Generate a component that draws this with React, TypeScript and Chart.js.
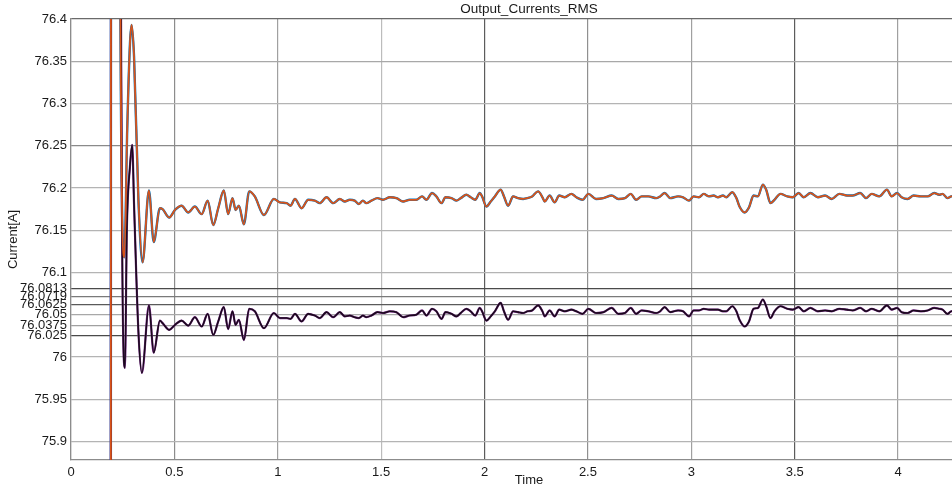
import React, { useEffect, useRef } from 'react';
import { Chart, registerables } from 'chart.js';

Chart.register(...registerables);

// ---- data ----
const startupTimeTop = [0, 0.192, 0.194, 0.236, 0.239, 0.258, 0.272, 0.285, 0.293, 0.305, 0.326, 0.346, 0.377, 0.4];
const startupCurrentTop = [75.0, 75.0, 77.5, 77.5, 76.4, 76.118, 76.27, 76.37, 76.393, 76.355, 76.186, 76.112, 76.197, 76.136];

const startupTimeBottom = [0, 0.192, 0.194, 0.238, 0.242, 0.261, 0.27, 0.285, 0.296, 0.305, 0.326, 0.343, 0.377, 0.4];
const startupCurrentBottom = [75.0, 75.0, 77.5, 77.5, 76.4, 75.987, 76.15, 76.225, 76.251, 76.18, 76.03, 75.981, 76.061, 76.005];

const steadyTime = [
  0.43, 0.443, 0.475, 0.503, 0.535, 0.567, 0.599, 0.632, 0.661, 0.688, 0.712, 0.739, 0.76, 0.781, 0.796, 0.812,
  0.836, 0.862, 0.889, 0.933, 0.981, 1.01, 1.043, 1.062, 1.083, 1.115, 1.147, 1.179, 1.203, 1.236, 1.268, 1.3,
  1.324, 1.348, 1.372, 1.392, 1.412, 1.428, 1.453, 1.482, 1.509, 1.542, 1.574, 1.606, 1.638, 1.67, 1.698, 1.719,
  1.746, 1.767, 1.792, 1.811, 1.84, 1.864, 1.885, 1.912, 1.933, 1.955, 1.977, 1.988, 2.009, 2.03, 2.05, 2.078,
  2.094, 2.114, 2.138, 2.162, 2.187, 2.208, 2.23, 2.259, 2.28, 2.291, 2.315, 2.339, 2.361, 2.388, 2.42, 2.444,
  2.474, 2.502, 2.539, 2.575, 2.615, 2.647, 2.679, 2.707, 2.733, 2.76, 2.792, 2.83, 2.849, 2.871, 2.898, 2.936,
  2.96, 2.989, 3.011, 3.037, 3.06, 3.086, 3.108, 3.129, 3.153, 3.169, 3.198, 3.218, 3.233, 3.258, 3.279, 3.301,
  3.322, 3.346, 3.362, 3.383, 3.402, 3.431, 3.464, 3.491, 3.519, 3.544, 3.576, 3.612, 3.647, 3.679, 3.716, 3.753,
  3.78, 3.817, 3.845, 3.872, 3.909, 3.946, 3.969, 3.995, 4.017, 4.046, 4.075, 4.11, 4.143, 4.175, 4.199, 4.215,
  4.239, 4.257, 4.34, 4.43,
];

const steadyCurrentTop = [
  76.176, 76.175, 76.165, 76.174, 76.179, 76.171, 76.178, 76.169, 76.185, 76.156, 76.176, 76.197, 76.169, 76.188, 76.174, 76.179,
  76.157, 76.196, 76.19, 76.168, 76.187, 76.183, 76.182, 76.179, 76.187, 76.176, 76.186, 76.185, 76.182, 76.189, 76.182, 76.187,
  76.184, 76.186, 76.185, 76.181, 76.185, 76.182, 76.185, 76.188, 76.186, 76.189, 76.188, 76.184, 76.186, 76.186, 76.19, 76.186,
  76.194, 76.19, 76.182, 76.189, 76.188, 76.185, 76.188, 76.192, 76.189, 76.186, 76.194, 76.19, 76.178, 76.184, 76.19, 76.198,
  76.19, 76.179, 76.19, 76.188, 76.187, 76.188, 76.19, 76.196, 76.189, 76.184, 76.191, 76.183, 76.191, 76.189, 76.193, 76.189,
  76.186, 76.193, 76.187, 76.188, 76.191, 76.187, 76.188, 76.193, 76.186, 76.19, 76.19, 76.188, 76.19, 76.194, 76.188, 76.19,
  76.189, 76.185, 76.19, 76.189, 76.193, 76.19, 76.191, 76.189, 76.191, 76.189, 76.195, 76.188, 76.178, 76.171, 76.177, 76.191,
  76.19, 76.204, 76.198, 76.182, 76.186, 76.193, 76.19, 76.189, 76.194, 76.189, 76.194, 76.189, 76.191, 76.187, 76.193, 76.191,
  76.191, 76.194, 76.188, 76.193, 76.19, 76.198, 76.19, 76.194, 76.189, 76.187, 76.191, 76.19, 76.19, 76.194, 76.192, 76.193,
  76.188, 76.19, 76.191, 76.19,
];

const steadyCurrentBottom = [
  76.043, 76.04, 76.032, 76.038, 76.043, 76.037, 76.047, 76.036, 76.051, 76.026, 76.042, 76.059, 76.033, 76.054, 76.038, 76.044,
  76.02, 76.057, 76.054, 76.034, 76.052, 76.046, 76.046, 76.045, 76.051, 76.042, 76.051, 76.049, 76.046, 76.053, 76.047, 76.053,
  76.048, 76.049, 76.047, 76.046, 76.049, 76.047, 76.049, 76.053, 76.052, 76.054, 76.053, 76.047, 76.049, 76.05, 76.055, 76.049,
  76.057, 76.054, 76.045, 76.053, 76.051, 76.048, 76.052, 76.057, 76.054, 76.049, 76.058, 76.054, 76.043, 76.048, 76.054, 76.064,
  76.054, 76.044, 76.054, 76.053, 76.052, 76.054, 76.055, 76.061, 76.054, 76.048, 76.055, 76.048, 76.056, 76.054, 76.056, 76.054,
  76.051, 76.057, 76.052, 76.053, 76.058, 76.051, 76.052, 76.058, 76.051, 76.055, 76.054, 76.052, 76.054, 76.059, 76.053, 76.055,
  76.054, 76.048, 76.055, 76.055, 76.057, 76.056, 76.056, 76.056, 76.054, 76.054, 76.06, 76.054, 76.044, 76.036, 76.042, 76.057,
  76.058, 76.068, 76.06, 76.046, 76.054, 76.06, 76.057, 76.056, 76.059, 76.054, 76.058, 76.054, 76.055, 76.054, 76.057, 76.056,
  76.055, 76.058, 76.054, 76.057, 76.054, 76.061, 76.056, 76.058, 76.053, 76.052, 76.055, 76.054, 76.055, 76.058, 76.057, 76.056,
  76.051, 76.054, 76.055, 76.054,
];

const yTickValues = [75.9, 75.95, 76, 76.025, 76.0375, 76.05, 76.0625, 76.0719, 76.0813, 76.1, 76.15, 76.2, 76.25, 76.3, 76.35, 76.4];
const yTickLabels = ['75.9', '75.95', '76', '76.025', '76.0375', '76.05', '76.0625', '76.0719', '76.0813', '76.1', '76.15', '76.2', '76.25', '76.3', '76.35', '76.4'];
const xTickValues = [0, 0.5, 1, 1.5, 2, 2.5, 3, 3.5, 4];
const xTickLabels = ['0', '0.5', '1', '1.5', '2', '2.5', '3', '3.5', '4'];

const yGridColors = ['#b4b4b4', '#b4b4b4', '#b4b4b4', '#4a4a4a', '#a0a0a0', '#a8a8a8', '#5a5a5a', '#7a7a7a', '#4a4a4a', '#b4b4b4', '#b4b4b4', '#b4b4b4', '#8a8a8a', '#b4b4b4', '#a8a8a8', '#6a6a6a'];
const xGridColors = ['#909090', '#8c8c8c', '#a0a0a0', '#bcbcbc', '#5c5c5c', '#909090', '#a0a0a0', '#5c5c5c', '#a0a0a0'];

const FONT = "'Liberation Sans', Arial, sans-serif";

function toPoints(t: number[], v: number[]) {
  return t.map((x, i) => ({ x, y: v[i] }));
}

export default function App() {
  const ref = useRef<HTMLCanvasElement | null>(null);

  useEffect(() => {
    if (!ref.current) return;
    const topPts = toPoints(startupTimeTop.concat(steadyTime), startupCurrentTop.concat(steadyCurrentTop));
    const bottomPts = toPoints(startupTimeBottom.concat(steadyTime), startupCurrentBottom.concat(steadyCurrentBottom));

    const common = {
      pointRadius: 0,
      cubicInterpolationMode: 'monotone' as const,
      fill: false,
    };

    const chart = new Chart(ref.current, {
      type: 'line',
      data: {
        datasets: [
          { ...common, label: 'Ia', data: topPts, borderColor: '#D95319', borderWidth: 1.8, order: 0 },
          { ...common, label: 'Ic', data: bottomPts, borderColor: '#1a0a1c', borderWidth: 1.6, order: 1 },
          { ...common, label: 'Id', data: bottomPts, borderColor: '#7E2F8E', borderWidth: 2.2, order: 2 },
          { ...common, label: 'Ib', data: topPts, borderColor: '#0072BD', borderWidth: 2.4, order: 3 },
        ],
      },
      options: {
        animation: false,
        responsive: false,
        maintainAspectRatio: false,
        layout: { padding: 0 },
        plugins: {
          legend: { display: false },
          tooltip: { enabled: false },
          title: {
            display: true,
            text: 'Output_Currents_RMS',
            fullSize: false,
            color: '#1a1a1a',
            font: { family: FONT, size: 13.5, weight: 'normal' },
            padding: { top: 1, bottom: 1.8 },
          },
        },
        scales: {
          x: {
            type: 'linear',
            min: 0,
            max: 4.43,
            afterBuildTicks: (scale: any) => {
              scale.ticks = xTickValues.map((value) => ({ value }));
            },
            afterFit: (scale: any) => {
              scale.height = 31;
            },
            ticks: {
              autoSkip: false,
              maxRotation: 0,
              padding: 5,
              color: '#1a1a1a',
              font: { family: FONT, size: 13 },
              callback: (_v: any, i: number) => xTickLabels[i],
            },
            grid: {
              drawTicks: false,
              color: (ctx: any) => xGridColors[ctx.index] || '#a0a0a0',
              lineWidth: 1.2,
            },
            border: { color: '#8c8c8c', width: 1.2 },
            title: {
              display: true,
              text: 'Time',
              color: '#1a1a1a',
              font: { family: FONT, size: 13 },
              padding: { top: 0, bottom: 3 },
            },
          },
          y: {
            type: 'linear',
            min: 75.878,
            max: 76.4,
            afterBuildTicks: (scale: any) => {
              scale.ticks = yTickValues.map((value) => ({ value }));
            },
            afterFit: (scale: any) => {
              scale.width = 71;
            },
            ticks: {
              autoSkip: false,
              padding: 4,
              color: '#1a1a1a',
              font: { family: FONT, size: 13 },
              callback: (_v: any, i: number) => yTickLabels[i],
            },
            grid: {
              drawTicks: false,
              color: (ctx: any) => yGridColors[ctx.index] || '#b4b4b4',
              lineWidth: 1.2,
            },
            border: { color: '#8c8c8c', width: 1.2 },
            title: {
              display: true,
              text: 'Current[A]',
              color: '#1a1a1a',
              font: { family: FONT, size: 13 },
              padding: { top: 6, bottom: 0 },
            },
          },
        },
      },
    });

    return () => chart.destroy();
  }, []);

  return (
    <div style={{ position: 'fixed', left: 0, top: 0, width: 952, height: 491, overflow: 'hidden', background: '#fff' }}>
      <canvas ref={ref} width={987} height={491} style={{ width: 987, height: 491, display: 'block' }} />
    </div>
  );
}
